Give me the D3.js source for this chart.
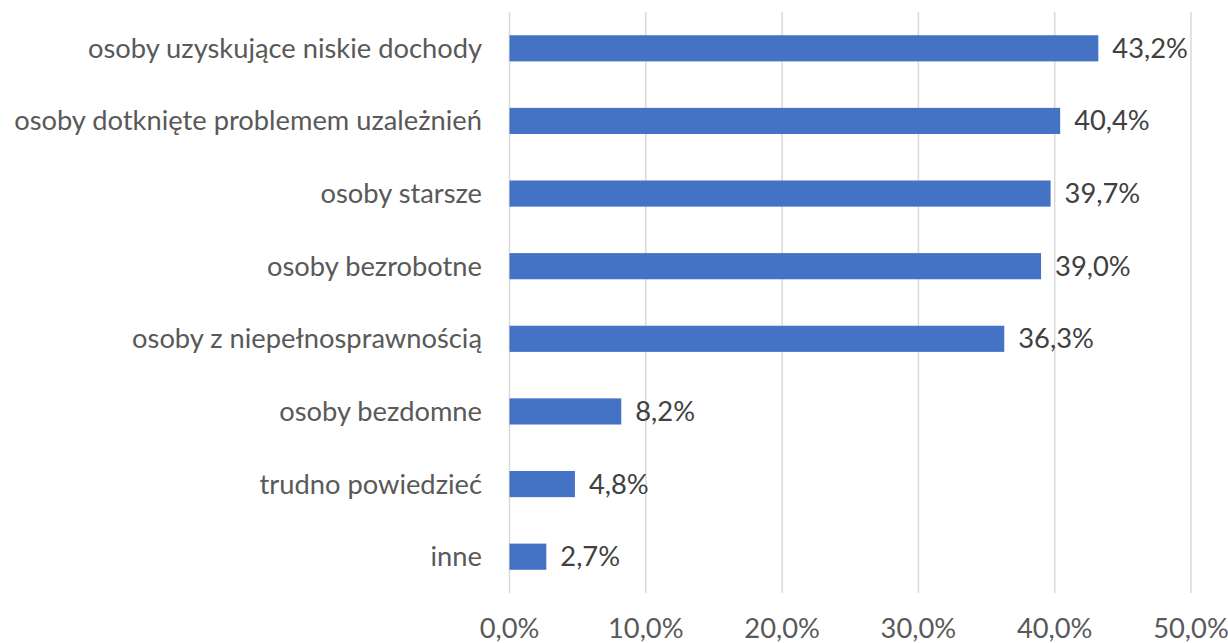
<!DOCTYPE html>
<html>
<head>
<meta charset="utf-8">
<script src="https://cdn.jsdelivr.net/npm/d3@7"></script>
<style>
  body{margin:0;background:#fff;}
  text{font-family:Lato,"Open Sans",sans-serif;fill:#595959;}
</style>
</head>
<body>
<svg width="1228" height="643"></svg>
<script>
const categories=[
  'osoby uzyskujące niskie dochody',
  'osoby dotknięte problemem uzależnień',
  'osoby starsze',
  'osoby bezrobotne',
  'osoby z niepełnosprawnością',
  'osoby bezdomne',
  'trudno powiedzieć',
  'inne'
];
const values=[43.2,40.4,39.7,39.0,36.3,8.2,4.8,2.7];
const ticks=[0,10,20,30,40,50];

const svg=d3.select('svg');
const plotLeft=509.5,plotRight=1191,plotTop=12,plotBottom=593;
const fontSize='27.3px';

const x=d3.scaleLinear().domain([0,50]).range([plotLeft,plotRight]);
const y=d3.scaleBand().domain(categories).range([plotTop,plotBottom]).paddingInner(0.64).paddingOuter(0.32);

const fmt=v=>v.toFixed(1).replace('.',',')+'%';

// gridlines
svg.selectAll('.grid')
  .data(ticks)
  .enter()
  .append('line')
  .attr('x1',d=>x(d)).attr('x2',d=>x(d))
  .attr('y1',plotTop).attr('y2',plotBottom)
  .attr('stroke','#d9d9d9')
  .attr('stroke-width',1.5);

// tick labels
svg.selectAll('.tick')
  .data(ticks)
  .enter()
  .append('text')
  .attr('x',d=>x(d))
  .attr('y',638)
  .attr('text-anchor','middle')
  .style('font-size',fontSize)
  .text(d=>fmt(d));

// bars
svg.selectAll('.bar')
  .data(values)
  .enter()
  .append('rect')
  .attr('x',x(0))
  .attr('y',(d,i)=>y(categories[i]))
  .attr('width',d=>x(d)-x(0))
  .attr('height',y.bandwidth())
  .attr('fill','#4472c4');

// data labels
svg.selectAll('.val')
  .data(values)
  .enter()
  .append('text')
  .attr('x',d=>x(d)+14)
  .attr('y',(d,i)=>y(categories[i])+y.bandwidth()/2)
  .attr('dy','0.35em')
  .style('font-size',fontSize)
  .style('fill','#404040')
  .text(d=>fmt(d));

// category labels
svg.selectAll('.cat')
  .data(categories)
  .enter()
  .append('text')
  .attr('x',482)
  .attr('y',d=>y(d)+y.bandwidth()/2)
  .attr('dy','0.35em')
  .attr('text-anchor','end')
  .style('font-size',fontSize)
  .text(d=>d);
</script>
</body>
</html>
